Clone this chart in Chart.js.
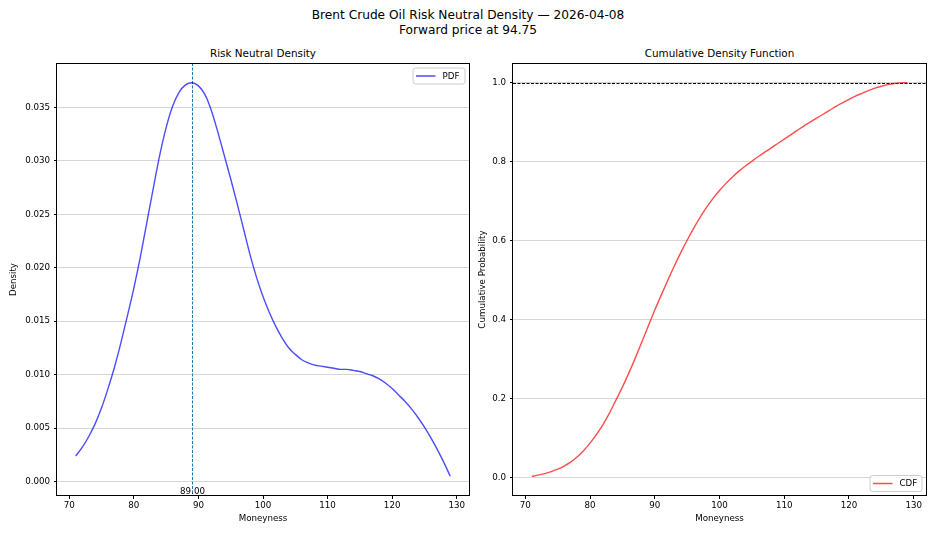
<!DOCTYPE html>
<html>
<head>
<meta charset="utf-8">
<title>Brent Crude Oil Risk Neutral Density</title>
<script src="https://cdn.jsdelivr.net/npm/chart.js@4.4.1/dist/chart.umd.min.js"></script>
<style>
  html, body { margin: 0; padding: 0; background: #fff; }
  body { width: 936px; height: 536px; position: relative; overflow: hidden;
         font-family: 'DejaVu Sans', sans-serif; color: #000; }
  .suptitle { position: absolute; left: 0; top: 8px; width: 936px; text-align: center;
              font-size: 12.2px; line-height: 15px; }
  .ax-title { position: absolute; top: 46px; text-align: center; font-size: 10.4px; line-height: 14px; }
  .panel { position: absolute; top: 50px; height: 486px; }
</style>
</head>
<body>
<div class="suptitle">Brent Crude Oil Risk Neutral Density — 2026-04-08<br>Forward price at 94.75</div>
<div class="ax-title" style="left:57px;width:412px">Risk Neutral Density</div>
<div class="ax-title" style="left:513px;width:413px">Cumulative Density Function</div>
<div class="panel" style="left:0;width:470px"><canvas id="pdfChart" width="470" height="486"></canvas></div>
<div class="panel" style="left:470px;width:466px"><canvas id="cdfChart" width="466" height="486"></canvas></div>
<script>
'use strict';

/* ── Data ────────────────────────────────────────────── */

var MONEYNESS = [
  71, 72, 73, 74, 75, 76, 77, 78, 79, 80,
  81, 82, 83, 84, 85, 86, 87, 88, 89, 90,
  91, 92, 93, 94, 95, 96, 97, 98, 99, 100,
  101, 102, 103, 104, 105, 106, 107, 108, 109, 110,
  111, 112, 113, 114, 115, 116, 117, 118, 119, 120,
  121, 122, 123, 124, 125, 126, 127, 128, 129
];

var PDF_VALUES = [
  0.0024, 0.0032, 0.0042, 0.0054, 0.0069, 0.0087, 0.0107, 0.0130, 0.0155, 0.0181,
  0.0210, 0.0242, 0.0274, 0.0305, 0.0331, 0.0351, 0.0364, 0.0371, 0.0373, 0.0370,
  0.0362, 0.0347, 0.0327, 0.0305, 0.0283, 0.0260, 0.0236, 0.0212, 0.0191, 0.0173,
  0.0158, 0.0145, 0.0134, 0.0125, 0.0119, 0.0114, 0.0111, 0.0109, 0.0108, 0.0107,
  0.0106, 0.0105, 0.0105, 0.0104, 0.0103, 0.0101, 0.0099, 0.0096, 0.0092, 0.0087,
  0.0081, 0.0075, 0.0068, 0.0060, 0.0051, 0.0041, 0.0030, 0.0018, 0.0005
];

var CDF_VALUES = [
  0.003, 0.006, 0.010, 0.015, 0.021, 0.029, 0.039, 0.052, 0.068, 0.087,
  0.109, 0.134, 0.163, 0.196, 0.229, 0.265, 0.303, 0.343, 0.384, 0.424,
  0.462, 0.499, 0.535, 0.569, 0.601, 0.631, 0.659, 0.684, 0.707, 0.727,
  0.745, 0.761, 0.776, 0.789, 0.801, 0.813, 0.824, 0.835, 0.846, 0.857,
  0.868, 0.879, 0.890, 0.900, 0.910, 0.920, 0.930, 0.940, 0.949, 0.958,
  0.966, 0.973, 0.980, 0.986, 0.991, 0.995, 0.998, 0.9995, 1.000
];

var MODE_PRICE    = 89;    // dashed marker on the density panel
var CDF_CEILING   = 1.0;   // dashed reference on the cumulative panel
var X_TICK_STEP   = 10;
var PDF_TICK_STEP = 0.005;
var CDF_TICK_STEP = 0.2;

/* ── Helpers ─────────────────────────────────────────── */

var FONT = 'DejaVu Sans';
Chart.defaults.font.family = FONT;
Chart.defaults.font.size = 8.7;
Chart.defaults.color = '#000';

/* matplotlib-style autoscale: data range plus 5% each side */
function paddedRange(values) {
  var lo = Math.min.apply(null, values);
  var hi = Math.max.apply(null, values);
  var m = (hi - lo) * 0.05;
  return { min: lo - m, max: hi + m };
}

function toPoints(ys) {
  return MONEYNESS.map(function (x, i) { return { x: x, y: ys[i] }; });
}

/* Black box round the plot area */
var framePlugin = {
  id: 'frame',
  afterDraw: function (chart) {
    var a = chart.chartArea, ctx = chart.ctx;
    ctx.save();
    ctx.strokeStyle = '#000';
    ctx.lineWidth = 1;
    ctx.strokeRect(Math.round(a.left) - 0.5, Math.round(a.top) + 0.5,
                   Math.round(a.right - a.left) + 1, Math.round(a.bottom - a.top) - 1);
    ctx.restore();
  }
};

function vLinePlugin(value, color, label) {
  return {
    id: 'vline',
    beforeDatasetsDraw: function (chart) {
      var a = chart.chartArea, ctx = chart.ctx;
      var x = Math.round(chart.scales.x.getPixelForValue(value)) + 0.5;
      ctx.save();
      ctx.strokeStyle = color;
      ctx.lineWidth = 1;
      ctx.setLineDash([3, 1.5]);
      ctx.beginPath();
      ctx.moveTo(x, a.top);
      ctx.lineTo(x, a.bottom);
      ctx.stroke();
      ctx.setLineDash([]);
      ctx.fillStyle = '#000';
      ctx.font = '8.7px "' + FONT + '"';
      ctx.textAlign = 'center';
      ctx.textBaseline = 'bottom';
      ctx.fillText(label, x, a.bottom);
      ctx.restore();
    }
  };
}

function hLinePlugin(value, color) {
  return {
    id: 'hline',
    beforeDatasetsDraw: function (chart) {
      var a = chart.chartArea, ctx = chart.ctx;
      var y = Math.round(chart.scales.y.getPixelForValue(value)) + 0.5;
      ctx.save();
      ctx.strokeStyle = color;
      ctx.lineWidth = 1;
      ctx.setLineDash([3, 1.5]);
      ctx.beginPath();
      ctx.moveTo(a.left, y);
      ctx.lineTo(a.right, y);
      ctx.stroke();
      ctx.restore();
    }
  };
}

/* Small matplotlib-like legend box inside the axes */
function legendPlugin(corner) {
  return {
    id: 'boxLegend',
    afterDatasetsDraw: function (chart) {
      var a = chart.chartArea, ctx = chart.ctx;
      var ds = chart.data.datasets[0];
      var w = 52, h = 16;
      var left = a.right - 4.5 - w;
      var top = corner === 'top' ? a.top + 4.5 : a.bottom - 5 - h;
      ctx.save();
      ctx.fillStyle = 'rgba(255,255,255,0.85)';
      ctx.strokeStyle = '#cccccc';
      ctx.lineWidth = 1;
      ctx.beginPath();
      ctx.roundRect(left + 0.5, top + 0.5, w, h, 2.5);
      ctx.fill();
      ctx.stroke();
      ctx.strokeStyle = ds.borderColor;
      ctx.lineWidth = 1.5;
      ctx.beginPath();
      ctx.moveTo(left + 3.5, top + h / 2 + 0.5);
      ctx.lineTo(left + 23, top + h / 2 + 0.5);
      ctx.stroke();
      ctx.fillStyle = '#000';
      ctx.font = '8.7px "' + FONT + '"';
      ctx.textAlign = 'left';
      ctx.textBaseline = 'middle';
      ctx.fillText(ds.label, left + 30, top + h / 2 + 1);
      ctx.restore();
    }
  };
}

function buildOptions(cfg) {
  var xr = paddedRange(MONEYNESS);
  var yr = paddedRange(cfg.values);
  return {
    responsive: false,
    animation: false,
    layout: { padding: { top: 13, right: cfg.padRight, left: 0, bottom: 0 } },
    plugins: { legend: { display: false }, tooltip: { enabled: false } },
    scales: {
      x: {
        type: 'linear',
        min: xr.min,
        max: xr.max,
        afterFit: function (s) { s.height = 40; },
        border: { display: false },
        grid: { drawOnChartArea: false, drawTicks: true, tickLength: 3, tickColor: '#000' },
        ticks: { stepSize: X_TICK_STEP, includeBounds: false, autoSkip: false, maxRotation: 0, padding: 1.5,
                 callback: function (v) { return String(v); } },
        title: { display: true, text: 'Moneyness', padding: { top: 0, bottom: 11.8 } }
      },
      y: {
        min: yr.min,
        max: yr.max,
        afterFit: function (s) { s.width = cfg.yWidth; },
        border: { display: false },
        grid: { color: '#d6d6d6', lineWidth: 1, tickLength: 3, tickColor: '#000' },
        ticks: { stepSize: cfg.step, includeBounds: false, autoSkip: false, padding: 4,
                 callback: function (v) { return v.toFixed(cfg.digits); } },
        title: { display: true, text: cfg.yTitle, padding: { top: cfg.titlePad, bottom: 0 } }
      }
    }
  };
}

/* ── Density panel ───────────────────────────────────── */

new Chart(document.getElementById('pdfChart'), {
  type: 'line',
  data: {
    datasets: [{
      label: 'PDF',
      data: toPoints(PDF_VALUES),
      borderColor: 'rgba(0,0,255,0.7)',
      borderWidth: 1.4,
      pointRadius: 0,
      cubicInterpolationMode: 'monotone',
      fill: false
    }]
  },
  options: buildOptions({
    values: PDF_VALUES, step: PDF_TICK_STEP, digits: 3,
    yTitle: 'Density', titlePad: 8.8, yWidth: 57, padRight: 1
  }),
  plugins: [framePlugin, vLinePlugin(MODE_PRICE, '#1f77b4', MODE_PRICE.toFixed(2)), legendPlugin('top')]
});

/* ── Cumulative panel ────────────────────────────────── */

new Chart(document.getElementById('cdfChart'), {
  type: 'line',
  data: {
    datasets: [{
      label: 'CDF',
      data: toPoints(CDF_VALUES),
      borderColor: 'rgba(255,0,0,0.7)',
      borderWidth: 1.4,
      pointRadius: 0,
      cubicInterpolationMode: 'monotone',
      fill: false
    }]
  },
  options: buildOptions({
    values: CDF_VALUES, step: CDF_TICK_STEP, digits: 1,
    yTitle: 'Cumulative Probability', titlePad: 7.1, yWidth: 43, padRight: 10
  }),
  plugins: [framePlugin, hLinePlugin(CDF_CEILING, '#000'), legendPlugin('bottom')]
});
</script>
</body>
</html>
